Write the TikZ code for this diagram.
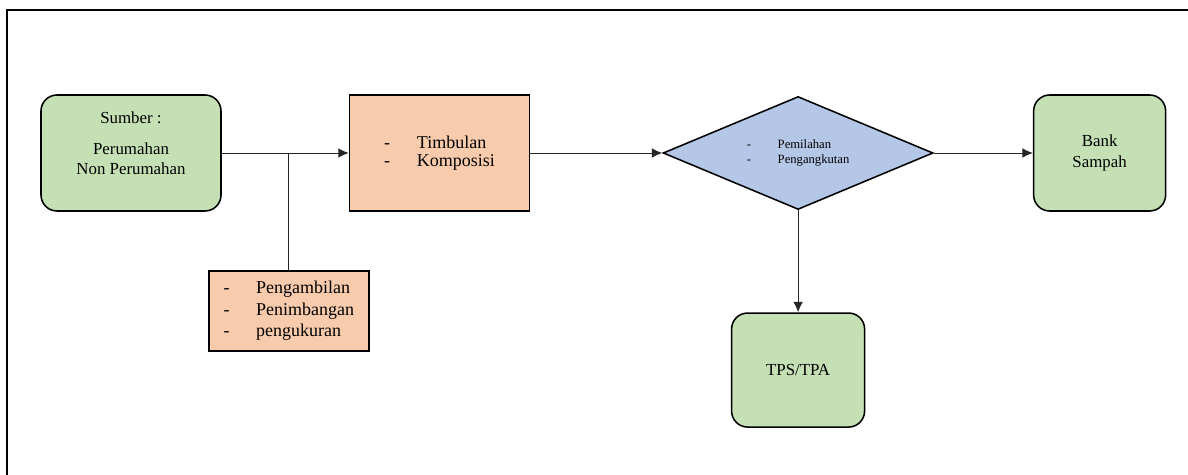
\documentclass[tikz,border=0pt]{standalone}
\usepackage{fontspec}
\newfontfamily\diagramfont{Liberation Serif}
\usetikzlibrary{calc}
\usetikzlibrary{arrows.meta}
\usetikzlibrary{positioning}
\usetikzlibrary{shapes.geometric}
\definecolor{boxgreen}{HTML}{C5E0B4}
\definecolor{boxorange}{HTML}{F8CBAD}
\definecolor{boxblue}{HTML}{B4C7E7}
\newcommand{\dashitem}[1]{-\hspace{19pt}#1}
\tikzset{%
	>={Latex[width=2.4mm,length=2.6mm]},
	% Specifications for style of nodes:
	base/.style = {draw=black, line width=1.1pt, align=center,
				   minimum width=4.5cm, minimum height=2.9cm,
				   font=\diagramfont\fontsize{12}{14}\selectfont},
	source/.style = {base, rectangle, rounded corners=0.4cm, fill=boxgreen},
	activity/.style = {base, rectangle, fill=boxorange, align=left,
					   font=\diagramfont\fontsize{12.8}{12.5}\selectfont},
	decision/.style = {base, diamond, fill=boxblue, align=left, aspect=2.39,
					   minimum width=6.75cm, minimum height=2.825cm,
					   font=\diagramfont\fontsize{9}{10.7}\selectfont},
	link/.style = {line width=0.7pt, black!85},
}
\begin{document}
\begin{tikzpicture}
	\useasboundingbox (0,0) rectangle (29.7,-11.875);
	% Frame of the page
	\draw[line width=1.5pt] (0.175,-11.875) -- (0.175,-0.25) -- (29.7,-0.25);

	% Specification of nodes (position, etc.)
	\node (sumber)		[source] at (3.275,-3.825)				{Sumber :\\[8pt] Perumahan\\ Non Perumahan\\ \mbox{}};
	\node (timbulan)	[activity, right=3.175cm of sumber]		{\dashitem{Timbulan}\\ \dashitem{Komposisi}};
	\node (pemilahan)	[decision, right=3.3cm of timbulan]		{\dashitem{Pemilahan}\\ \dashitem{Pengangkutan}};
	\node (bank)		[source, minimum width=3.3cm, right=2.475cm of pemilahan]	{Bank\\[1pt] Sampah};
	\node (tps)			[source, minimum width=3.325cm, minimum height=2.85cm, below=2.55cm of pemilahan]	{TPS/TPA};
	\coordinate (split) at ($(sumber.east)!0.528!(timbulan.west)$);
	\node (pengambilan)	[activity, minimum width=4cm, minimum height=2cm,
						 font=\diagramfont\fontsize{12.8}{15}\selectfont, below=2.925cm of split]
						{\dashitem{Pengambilan}\\ \dashitem{Penimbangan}\\ \dashitem{pengukuran}};

	% Specification of lines between nodes specified above
	\draw[link, ->]	(sumber) -- (timbulan);
	\draw[link]		(split) -- (pengambilan);
	\draw[link, ->]	(timbulan) -- (pemilahan);
	\draw[link, ->]	(pemilahan) -- (bank);
	\draw[link, ->]	(pemilahan) -- (tps);

\end{tikzpicture}
\end{document}
